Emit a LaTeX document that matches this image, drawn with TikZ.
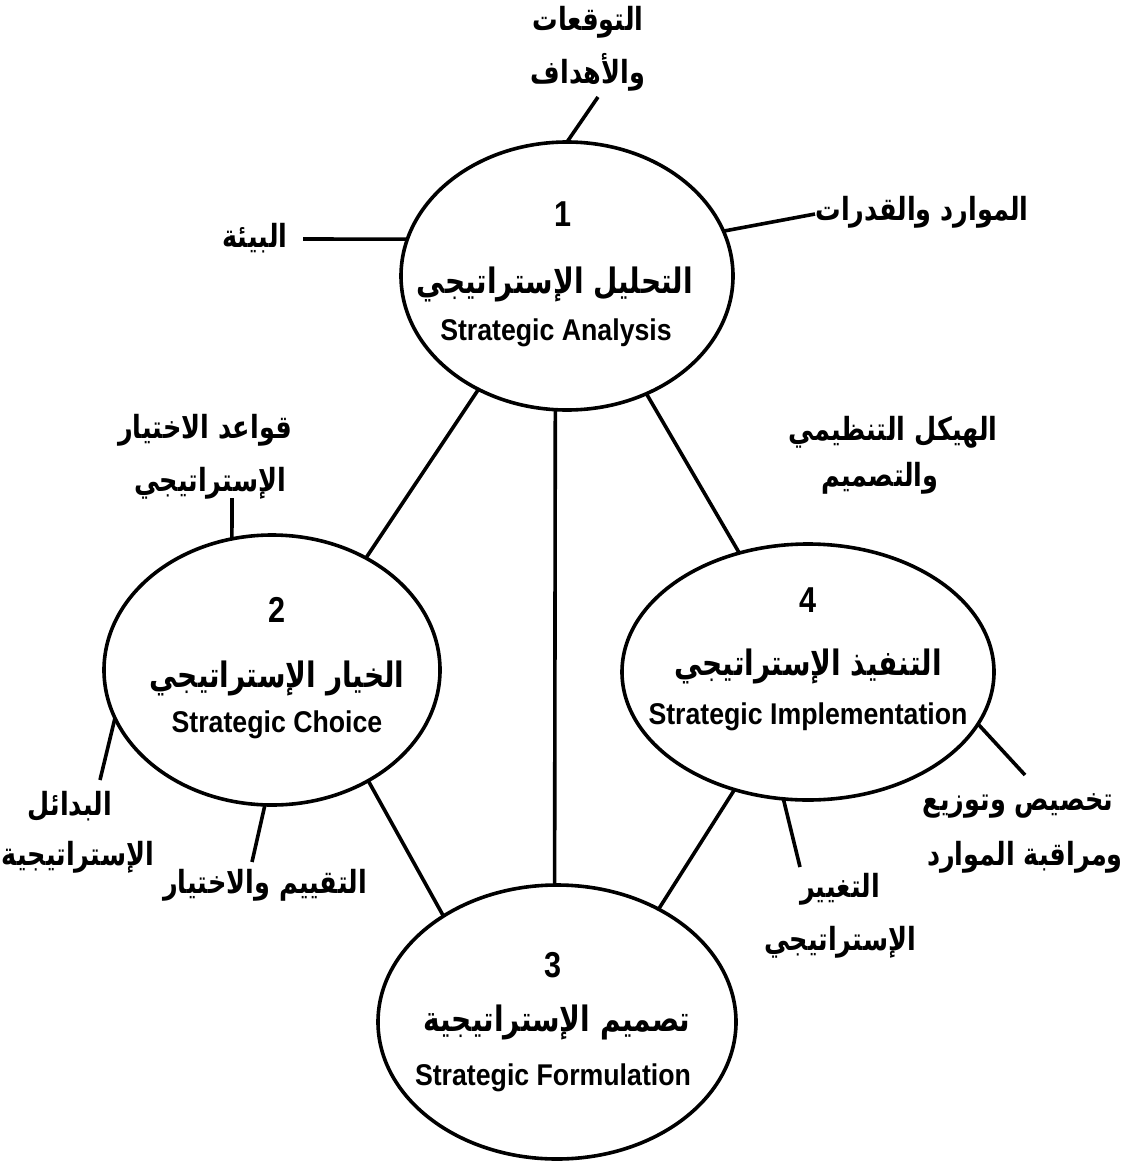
\documentclass[tikz,border=0pt]{standalone}
\usepackage{fontspec}
\setmainfont{Liberation Sans}
\newfontfamily\arabicfont[Script=Arabic]{DejaVu Sans}
\TeXXeTstate=1
\usetikzlibrary{shapes.geometric}

% Arabic text (right to left), English caption, stage number
\newcommand{\artxt}[1]{\scalebox{1}[1.25]{\arabicfont\bfseries\fontsize{25.5}{28}\selectfont\beginR #1\endR}}
\newcommand{\arbig}[1]{\scalebox{1}[1.25]{\arabicfont\bfseries\fontsize{28}{30}\selectfont\beginR #1\endR}}
\newcommand{\entxt}[1]{\scalebox{0.89}[1]{\bfseries\fontsize{30}{32}\selectfont #1}}
\newcommand{\numtxt}[1]{\scalebox{0.85}[1]{\bfseries\fontsize{36}{38}\selectfont #1}}

\tikzset{
  stage/.style={ellipse, draw, line width=3.6pt, inner sep=0pt, outer sep=0pt},
  lbl/.style={inner sep=0pt, outer sep=0pt, anchor=center},
  link/.style={line width=3.6pt},
}

\begin{document}
\begin{tikzpicture}[x=1pt,y=-1pt]
\useasboundingbox (0,0) rectangle (1137,1162);

% the four stages
\node[stage, minimum width=332, minimum height=268] (e1) at (567,276) {};
\node[stage, minimum width=336, minimum height=270] (e2) at (272,670) {};
\node[stage, minimum width=358, minimum height=274] (e3) at (557,1022) {};
\node[stage, minimum width=372, minimum height=256] (e4) at (808,672) {};

% stage captions
\node[lbl] (n1) at (563,214) {\numtxt{1}};
\node[lbl] (a1) at (555,284) {\arbig{التحليل الإستراتيجي}};
\node[lbl] (s1) at (556,333) {\entxt{Strategic Analysis}};

\node[lbl] (n2) at (277,610) {\numtxt{2}};
\node[lbl] (a2) at (277,678) {\arbig{الخيار الإستراتيجي}};
\node[lbl] (s2) at (277,725) {\entxt{Strategic Choice}};

\node[lbl] (n3) at (553,965) {\numtxt{3}};
\node[lbl] (a3) at (557,1022) {\arbig{تصميم الإستراتيجية}};
\node[lbl] (s3) at (553,1078) {\entxt{Strategic Formulation}};

\node[lbl] (n4) at (808,600) {\numtxt{4}};
\node[lbl] (a4) at (808,666) {\arbig{التنفيذ الإستراتيجي}};
\node[lbl] (s4) at (808,717) {\entxt{Strategic Implementation}};

% surrounding factors
\node[lbl] (t1) at (588,22) {\artxt{التوقعات}};
\node[lbl] (t2) at (588,72) {\artxt{والأهداف}};
\node[lbl] (env) at (255,238) {\artxt{البيئة}};
\node[lbl] (res) at (922,212) {\artxt{الموارد والقدرات}};
\node[lbl] (q1) at (205,430) {\artxt{قواعد الاختيار}};
\node[lbl] (q2) at (210,483) {\artxt{الإستراتيجي}};
\node[lbl] (h1) at (893,432) {\artxt{الهيكل التنظيمي}};
\node[lbl] (h2) at (880,478) {\artxt{والتصميم}};
\node[lbl] (b1) at (70,806) {\artxt{البدائل}};
\node[lbl] (b2) at (78,857) {\artxt{الإستراتيجية}};
\node[lbl] (ev) at (265,885) {\artxt{التقييم والاختيار}};
\node[lbl] (k1) at (1018,806) {\artxt{تخصيص وتوزيع}};
\node[lbl] (k2) at (1025,857) {\artxt{ومراقبة الموارد}};
\node[lbl] (g1) at (840,889) {\artxt{التغيير}};
\node[lbl] (g2) at (840,942) {\artxt{الإستراتيجي}};

% free ends of the factor spokes
\coordinate (pTop) at (598,97);
\coordinate (pEnv) at (303,239);
\coordinate (pRes) at (815,214);
\coordinate (pRule) at (232,498);
\coordinate (pAlt) at (100,780);
\coordinate (pEval) at (252,862);
\coordinate (pAlloc) at (1025,775);
\coordinate (pChg) at (800,867);

% links between stages
\draw[link] (e1.232) -- (e2.50);
\draw[link] (e1.265) -- (e3.91);
\draw[link] (e1.304) -- (e4.120);
\draw[link] (e2.311) -- (e3.137);
\draw[link] (e4.238) -- (e3.48);

% factor spokes
\draw[link] (e1.90) -- (pTop);
\draw[link] (e1.167) -- (pEnv);
\draw[link] (e1.16) -- (pRes);
\draw[link] (e2.107) -- (pRule);
\draw[link] (e2.197) -- (pAlt);
\draw[link] (e2.267) -- (pEval);
\draw[link] (e4.343) -- (pAlloc);
\draw[link] (e4.259) -- (pChg);
\end{tikzpicture}
\end{document}
